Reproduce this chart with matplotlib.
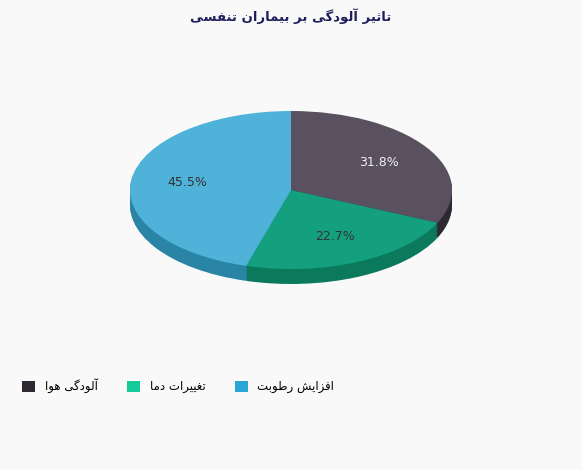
import matplotlib
matplotlib.use("Agg")
import matplotlib.pyplot as plt
from matplotlib.patches import Patch

# --- data ---
categories = ["آلودگی هوا", "تغییرات دما", "افزایش رطوبت"]
values = [31.8, 22.7, 45.5]
title = "تاثیر آلودگی بر بیماران تنفسی"
top_colors = ["#5a5160", "#14a07f", "#4fb3d9"]
side_colors = ["#2e2833", "#0b7a5c", "#2a84a6"]
legend_colors = ["#2e2833", "#14c99a", "#2aa6d6"]

# minimal Arabic/Persian shaping (presentation forms), then visual order
FORMS = {
    "ا": ("\uFE8D", "\uFE8E", None, None), "آ": ("\uFE81", "\uFE82", None, None),
    "ب": ("\uFE8F", "\uFE90", "\uFE91", "\uFE92"), "ت": ("\uFE95", "\uFE96", "\uFE97", "\uFE98"),
    "ث": ("\uFE99", "\uFE9A", "\uFE9B", "\uFE9C"), "د": ("\uFEA9", "\uFEAA", None, None),
    "ر": ("\uFEAD", "\uFEAE", None, None), "ز": ("\uFEAF", "\uFEB0", None, None),
    "س": ("\uFEB1", "\uFEB2", "\uFEB3", "\uFEB4"), "ش": ("\uFEB5", "\uFEB6", "\uFEB7", "\uFEB8"),
    "ط": ("\uFEC1", "\uFEC2", "\uFEC3", "\uFEC4"), "غ": ("\uFECD", "\uFECE", "\uFECF", "\uFED0"),
    "ف": ("\uFED1", "\uFED2", "\uFED3", "\uFED4"), "ل": ("\uFEDD", "\uFEDE", "\uFEDF", "\uFEE0"),
    "م": ("\uFEE1", "\uFEE2", "\uFEE3", "\uFEE4"), "ن": ("\uFEE5", "\uFEE6", "\uFEE7", "\uFEE8"),
    "ه": ("\uFEE9", "\uFEEA", "\uFEEB", "\uFEEC"), "و": ("\uFEED", "\uFEEE", None, None),
    "ی": ("\uFBFC", "\uFBFD", "\uFBFE", "\uFBFF"), "گ": ("\uFB92", "\uFB93", "\uFB94", "\uFB95"),
}


def shape(text):
    out = []
    n = len(text)
    for i, ch in enumerate(text):
        if ch not in FORMS:
            out.append(ch)
            continue
        prev = text[i - 1] if i > 0 else None
        nxt = text[i + 1] if i < n - 1 else None
        joins_prev = prev in FORMS and FORMS[prev][2] is not None
        joins_next = nxt in FORMS and FORMS[ch][2] is not None
        iso, fin, ini, med = FORMS[ch]
        if joins_prev and joins_next:
            out.append(med)
        elif joins_prev:
            out.append(fin)
        elif joins_next:
            out.append(ini)
        else:
            out.append(iso)
    return "".join(out)[::-1]


W, H = 582, 470
cx, cy, rx, ry, depth = 291, 190, 161, 79, 15
k = rx / ry

fig = plt.figure(figsize=(W / 100, H / 100), dpi=100, facecolor="#f9f9f9")
ax = fig.add_axes([0, 0, 1, 1])
ax.set_facecolor("#f9f9f9")

# side layers
for d in range(depth, 0, -1):
    ax.pie(values, colors=side_colors, startangle=90, counterclock=False,
           radius=rx, center=(cx, (H - cy - d) * k), frame=True,
           wedgeprops=dict(linewidth=0))

wedges, texts, autotexts = ax.pie(
    values, colors=top_colors, startangle=90, counterclock=False,
    radius=rx, center=(cx, (H - cy) * k), frame=True,
    autopct="%1.1f%%", pctdistance=0.65,
    wedgeprops=dict(linewidth=0),
    textprops=dict(fontsize=9, color="#333333"))
for t in autotexts:
    t.set_color("#f0f0f0" if t.get_text().startswith("31") else "#333333")
ax.set_aspect("auto")
ax.set_xlim(0, W)
ax.set_ylim(0, H * k)
ax.axis("off")

fig.text(0.5, 1 - 16 / H, shape(title), ha="center", va="center",
         fontsize=9.5, fontweight="bold", color="#1f1f5c", family="DejaVu Sans")

handles = [Patch(facecolor=c, edgecolor="none") for c in legend_colors]
fig.legend(handles, [shape(c) for c in categories], ncol=3, loc="center left",
           bbox_to_anchor=(0.02, 1 - 386 / H), frameon=False,
           handlelength=1.1, handleheight=1.1, columnspacing=2.5,
           prop=dict(family="DejaVu Sans", size=8.5))

fig.savefig("out.png", dpi=100, facecolor=fig.get_facecolor())
